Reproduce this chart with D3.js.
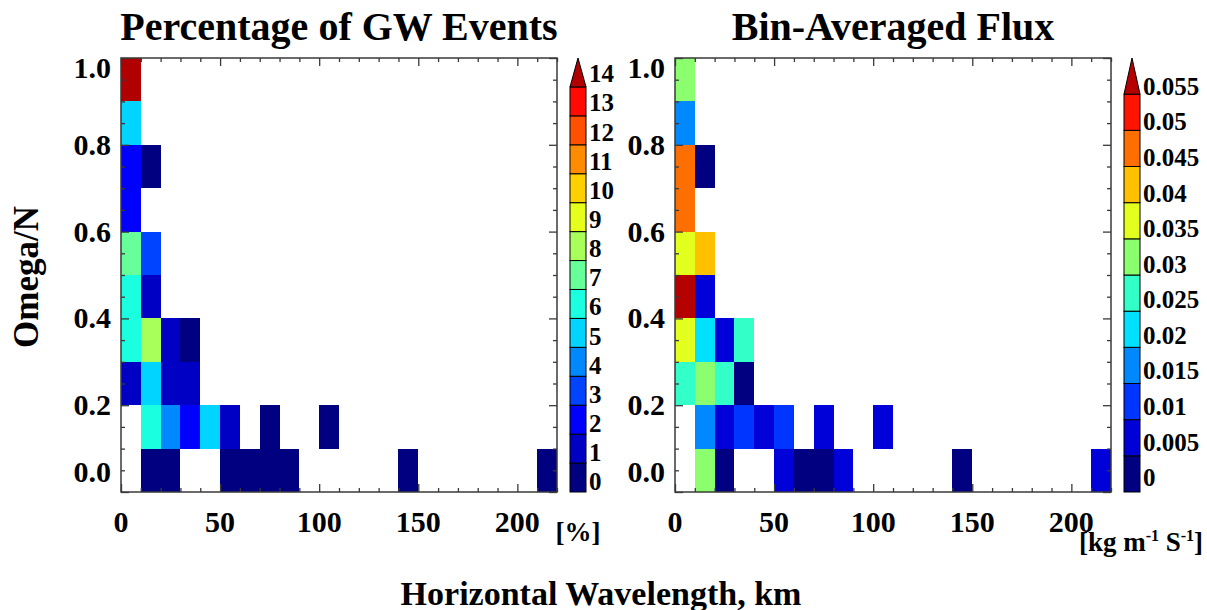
<!DOCTYPE html>
<html>
<head>
<meta charset="utf-8">
<script src="https://cdn.jsdelivr.net/npm/d3@7"></script>
<style>
  html, body { margin: 0; padding: 0; background: #fff; }
  svg { display: block; }
  text { font-family: "Liberation Serif", "Times New Roman", serif; font-weight: bold; fill: #000; }
</style>
</head>
<body>
<svg id="chart" width="1207" height="610"></svg>
<script>
// ---------------- data ----------------
const xTicks = [0, 50, 100, 150, 200];
const yTicks = [0.0, 0.2, 0.4, 0.6, 0.8, 1.0];
const binWidthKm = 10;
const binHeight = 0.1;

// [bin start km, bin start omega/N, percentage]
const pctCells = [
  [0, 0.9, 14.6],
  [0, 0.8, 5.4],
  [0, 0.7, 2.4], [10, 0.7, 0.6],
  [0, 0.6, 2.3],
  [0, 0.5, 7.3], [10, 0.5, 3.2],
  [0, 0.4, 6.4], [10, 0.4, 1.4],
  [0, 0.3, 6.6], [10, 0.3, 8.2], [20, 0.3, 1.3], [30, 0.3, 0.7],
  [0, 0.2, 1.5], [10, 0.2, 5.3], [20, 0.2, 1.2], [30, 0.2, 1.1],
  [10, 0.1, 6.2], [20, 0.1, 4.1], [30, 0.1, 2.2], [40, 0.1, 5.2], [50, 0.1, 1.1], [70, 0.1, 0.6], [100, 0.1, 0.5],
  [10, 0.0, 0.6], [20, 0.0, 0.5], [50, 0.0, 0.6], [60, 0.0, 0.5], [70, 0.0, 0.7], [80, 0.0, 0.5], [140, 0.0, 0.5], [210, 0.0, 0.6]
];

// [bin start km, bin start omega/N, flux kg m-1 s-1]
const fluxCells = [
  [0, 0.9, 0.032],
  [0, 0.8, 0.017],
  [0, 0.7, 0.047], [10, 0.7, 0.003],
  [0, 0.6, 0.046],
  [0, 0.5, 0.037], [10, 0.5, 0.042],
  [0, 0.4, 0.058], [10, 0.4, 0.007],
  [0, 0.3, 0.036], [10, 0.3, 0.022], [20, 0.3, 0.006], [30, 0.3, 0.027],
  [0, 0.2, 0.026], [10, 0.2, 0.031], [20, 0.2, 0.027], [30, 0.2, 0.004],
  [10, 0.1, 0.017], [20, 0.1, 0.007], [30, 0.1, 0.011], [40, 0.1, 0.008], [50, 0.1, 0.012], [70, 0.1, 0.006], [100, 0.1, 0.007],
  [10, 0.0, 0.032], [20, 0.0, 0.003], [50, 0.0, 0.006], [60, 0.0, 0.002], [70, 0.0, 0.003], [80, 0.0, 0.007], [140, 0.0, 0.004], [210, 0.0, 0.008]
];

const pctLevels = [1, 2, 3, 4, 5, 6, 7, 8, 9, 10, 11, 12, 13, 14];
const pctLabels = ["0","1","2","3","4","5","6","7","8","9","10","11","12","13","14"];
const pctColors = ["#000080","#0000c4","#0000ff","#0044ff","#0088ff","#00d4ff","#1affe0","#66ff99",
                   "#a8ff5a","#e6ff1a","#ffd000","#ff8c00","#ff5000","#ff0a00","#b00000"];

const fluxLevels = [0.005, 0.01, 0.015, 0.02, 0.025, 0.03, 0.035, 0.04, 0.045, 0.05, 0.055];
const fluxLabels = ["0","0.005","0.01","0.015","0.02","0.025","0.03","0.035","0.04","0.045","0.05","0.055"];
const fluxColors = ["#000080","#0000d8","#0034ff","#0088ff","#00e0ff","#33ffc8","#8cff6e","#e2ff1e",
                    "#ffc000","#ff6e00","#ff1400","#b40000"];

// ---------------- layout ----------------
const svg = d3.select("#chart");
const plotTop = 58, plotBottom = 492;
const panels = [
  { x0: 121, x1: 557, title: "Percentage of GW Events", cells: pctCells,
    levels: pctLevels, colors: pctColors, labels: pctLabels,
    cb: { x0: 570, x1: 586, lab0: 481.5, labN: 73.5 }, unit: "pct" },
  { x0: 675, x1: 1111, title: "Bin-Averaged Flux", cells: fluxCells,
    levels: fluxLevels, colors: fluxColors, labels: fluxLabels,
    cb: { x0: 1124, x1: 1140, lab0: 477.5, labN: 86 }, unit: "flux" }
];
const frameColor = "#3a3a3a";

panels.forEach(p => {
  const x = d3.scaleLinear().domain([0, 220]).range([p.x0, p.x1]);
  const y = d3.scaleLinear().domain([0, 1]).range([plotBottom, plotTop]);
  const color = d3.scaleThreshold().domain(p.levels).range(p.colors);
  const g = svg.append("g");

  // cells
  g.append("g").selectAll("rect").data(p.cells).join("rect")
    .attr("x", d => x(d[0]))
    .attr("y", d => y(d[1] + binHeight))
    .attr("width", d => x(d[0] + binWidthKm) - x(d[0]))
    .attr("height", d => y(d[1]) - y(d[1] + binHeight))
    .attr("fill", d => color(d[2]))
    .attr("shape-rendering", "crispEdges");

  // ticks (inward, all four sides)
  const xMinor = d3.range(0, 221, 10).filter(v => v % 50 !== 0);
  const yMinor = d3.range(0, 21).map(i => i * 0.05).filter((v, i) => i % 4 !== 0);
  const addAxis = (axis, tx, ty) => {
    const a = g.append("g").attr("transform", `translate(${tx},${ty})`).call(axis);
    a.select(".domain").remove();
    a.selectAll("line").attr("stroke", frameColor).attr("stroke-width", 1.3);
    a.selectAll("text").remove();
  };
  addAxis(d3.axisBottom(x).tickValues(xTicks).tickSize(-8), 0, plotBottom);
  addAxis(d3.axisBottom(x).tickValues(xMinor).tickSize(-4), 0, plotBottom);
  addAxis(d3.axisTop(x).tickValues(xTicks).tickSize(-8), 0, plotTop);
  addAxis(d3.axisTop(x).tickValues(xMinor).tickSize(-4), 0, plotTop);
  addAxis(d3.axisLeft(y).tickValues(yTicks).tickSize(-8), p.x0, 0);
  addAxis(d3.axisLeft(y).tickValues(yMinor).tickSize(-4), p.x0, 0);
  addAxis(d3.axisRight(y).tickValues(yTicks).tickSize(-8), p.x1, 0);
  addAxis(d3.axisRight(y).tickValues(yMinor).tickSize(-4), p.x1, 0);

  // frame
  g.append("rect").attr("x", p.x0).attr("y", plotTop)
    .attr("width", p.x1 - p.x0).attr("height", plotBottom - plotTop)
    .attr("fill", "none").attr("stroke", frameColor).attr("stroke-width", 1.5);

  // tick labels
  g.append("g").selectAll("text").data(xTicks).join("text")
    .attr("x", d => x(d)).attr("y", 532)
    .attr("text-anchor", "middle").attr("font-size", 30)
    .text(d => d);
  g.append("g").selectAll("text").data(yTicks).join("text")
    .attr("x", p.x0 - 10)
    .attr("y", d => Math.min(Math.max(y(d), plotTop + 10), plotBottom - 20))
    .attr("dy", "0.33em")
    .attr("text-anchor", "end").attr("font-size", 30)
    .text(d => d.toFixed(1));

  // title
  g.append("text").attr("x", (p.x0 + p.x1) / 2).attr("y", 40)
    .attr("text-anchor", "middle").attr("font-size", 40).text(p.title);

  // colorbar
  const n = p.colors.length; // last one is the triangle
  const cy = d3.scaleLinear().domain([0, n]).range([plotBottom, plotTop]);
  const cb = p.cb;
  const cbg = g.append("g");
  cbg.selectAll("rect").data(p.colors.slice(0, n - 1)).join("rect")
    .attr("x", cb.x0).attr("width", cb.x1 - cb.x0)
    .attr("y", (d, i) => cy(i + 1)).attr("height", (d, i) => cy(i) - cy(i + 1))
    .attr("fill", d => d).attr("stroke", "#000").attr("stroke-width", 1);
  cbg.append("path")
    .attr("d", `M${cb.x0},${cy(n - 1)} L${cb.x1},${cy(n - 1)} L${(cb.x0 + cb.x1) / 2},${cy(n)} Z`)
    .attr("fill", p.colors[n - 1]).attr("stroke", "#000").attr("stroke-width", 1);
  const ly = d3.scaleLinear().domain([0, n - 1]).range([cb.lab0, cb.labN]);
  cbg.selectAll("text").data(p.labels).join("text")
    .attr("x", cb.x1 + 3).attr("y", (d, i) => ly(i)).attr("dy", "0.35em")
    .attr("font-size", 25).text(d => d);

  // units
  if (p.unit === "pct") {
    g.append("text").attr("x", (cb.x0 + cb.x1) / 2).attr("y", 541)
      .attr("text-anchor", "middle").attr("font-size", 27).text("[%]");
  } else {
    const t = g.append("text").attr("x", 1141).attr("y", 551)
      .attr("text-anchor", "middle").attr("font-size", 27);
    t.append("tspan").text("[kg m");
    t.append("tspan").attr("font-size", 16).attr("dy", -10).text("-1");
    t.append("tspan").attr("dy", 10).text(" S");
    t.append("tspan").attr("font-size", 16).attr("dy", -10).text("-1");
    t.append("tspan").attr("dy", 10).text("]");
  }
});

// axis titles
svg.append("text").attr("x", 601).attr("y", 605)
  .attr("text-anchor", "middle").attr("font-size", 34)
  .text("Horizontal Wavelength, km");
svg.append("text").attr("transform", "translate(38,277) rotate(-90)")
  .attr("text-anchor", "middle").attr("font-size", 35)
  .text("Omega/N");
</script>
</body>
</html>
